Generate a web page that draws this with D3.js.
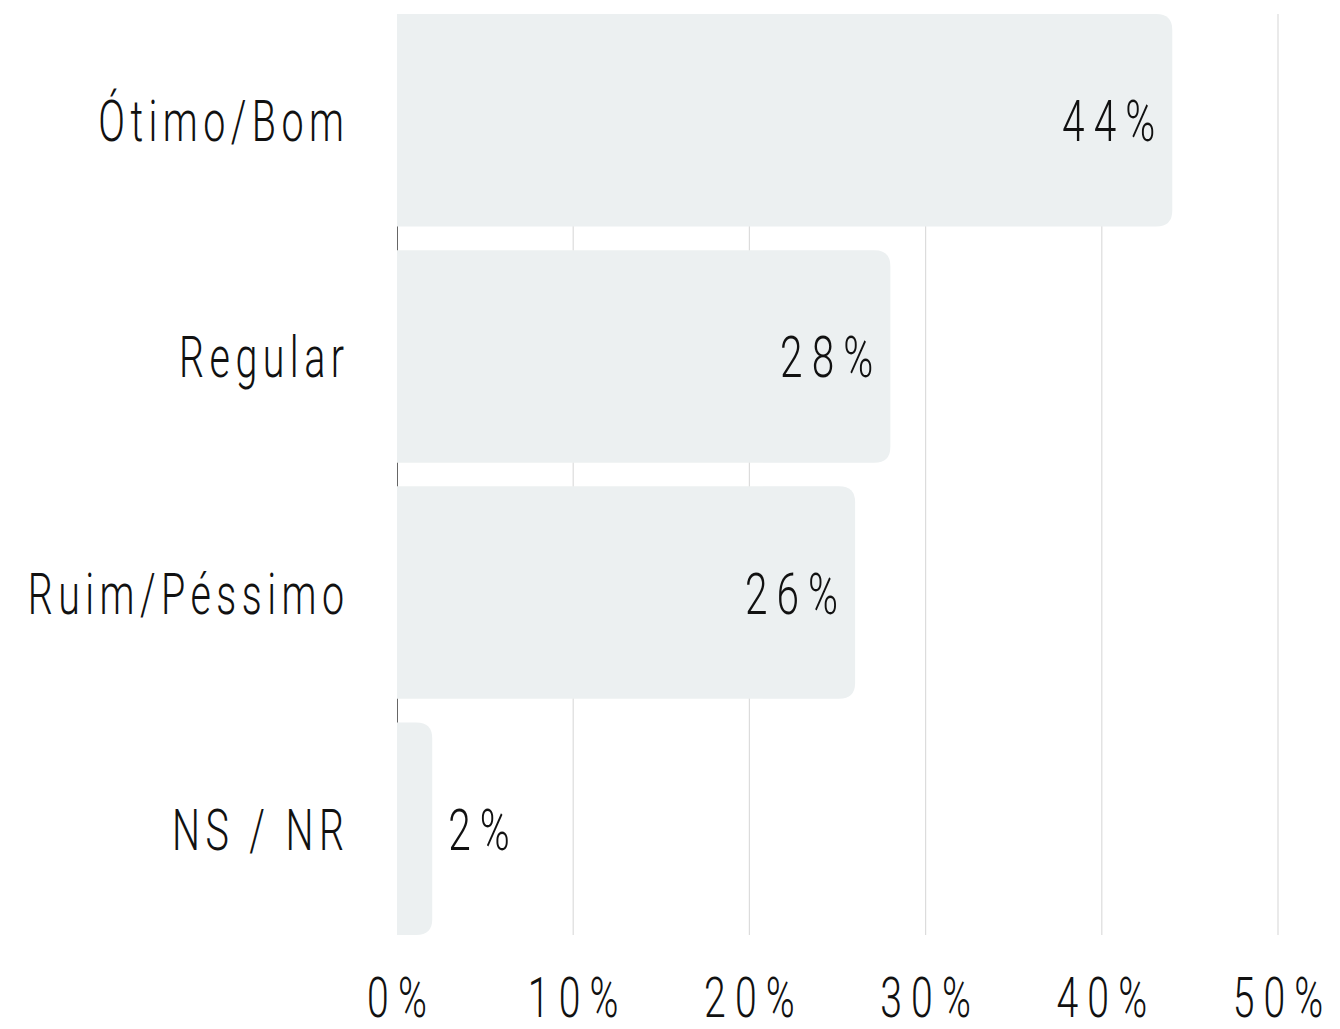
<!DOCTYPE html>
<html lang="pt">
<head>
  <meta charset="UTF-8">
  <title>Avaliação</title>
  <script src="https://d3js.org/d3.v7.min.js"></script>
  <style>
    body, html {
      margin: 0;
      padding: 0;
      overflow: hidden;
      background: #fff;
    }
    .lbl {
      font-family: Roboto, sans-serif;
      font-weight: 300;
      font-size: 58px;
      fill: #111;
    }
  </style>
</head>
<body>
  <svg width="1340" height="1029"></svg>
  <script>
    // Chart data
    const categories = ['Ótimo/Bom', 'Regular', 'Ruim/Péssimo', 'NS / NR'];
    const values = [44, 28, 26, 2];
    const tickValues = [0, 10, 20, 30, 40, 50];

    const svg = d3.select('svg');
    const margin = { top: 14, right: 62, bottom: 94, left: 397 };
    const width = 1340 - margin.left - margin.right;
    const height = 1029 - margin.top - margin.bottom;

    const g = svg.append('g').attr('transform', `translate(${margin.left},${margin.top})`);

    const x = d3.scaleLinear().domain([0, 50]).range([0, width]);
    const y = d3.scaleBand().domain(categories).range([0, height])
      .paddingInner(0.1).paddingOuter(0);

    // condensed look: horizontal squeeze + letter spacing (unscaled px)
    const wordStyle = { squeeze: 0.68, ls: 8 };
    const numStyle = { squeeze: 0.70, ls: 13 };

    // shift so the trailing letter-spacing doesn't push the text off its anchor
    function trail(st, anchor) {
      if (anchor === 'end') return st.ls * st.squeeze;
      if (anchor === 'middle') return st.ls * st.squeeze / 2;
      return 0;
    }

    function condensedText(sel, anchor, st) {
      sel.attr('class', 'lbl')
        .attr('text-anchor', anchor)
        .attr('letter-spacing', st.ls + 'px');
    }

    // Grid lines
    g.append('g')
      .selectAll('line')
      .data(tickValues.slice(1))
      .join('line')
      .attr('x1', d => x(d)).attr('x2', d => x(d))
      .attr('y1', 0).attr('y2', height)
      .attr('stroke', '#dcdcdc')
      .attr('stroke-width', 1.2);

    // Axis line
    g.append('line')
      .attr('x1', 0.5).attr('x2', 0.5)
      .attr('y1', 0).attr('y2', height)
      .attr('stroke', '#666')
      .attr('stroke-width', 1);

    // Bars with rounded right corners
    const r = 16;
    function barPath(d, i) {
      const x0 = x(0), x1 = x(d);
      const y0 = y(categories[i]), y1 = y0 + y.bandwidth();
      const rr = Math.min(r, (x1 - x0));
      return `M${x0},${y0}H${x1 - rr}Q${x1},${y0} ${x1},${y0 + rr}` +
             `V${y1 - rr}Q${x1},${y1} ${x1 - rr},${y1}H${x0}Z`;
    }

    g.append('g')
      .selectAll('path')
      .data(values)
      .join('path')
      .attr('d', barPath)
      .attr('fill', '#ecf0f1');

    // Value labels
    g.append('g')
      .selectAll('text')
      .data(values)
      .join('text')
      .each(function (d, i) {
        const inside = x(d) > 100;
        const anchor = inside ? 'end' : 'start';
        const tx = (inside ? x(d) - 17 : x(d) + 16) + trail(numStyle, anchor);
        const ty = y(categories[i]) + y.bandwidth() / 2 + 21;
        d3.select(this)
          .call(condensedText, anchor, numStyle)
          .attr('transform', `translate(${tx},${ty}) scale(${numStyle.squeeze},1)`)
          .text(d + '%');
      });

    // Category labels
    g.append('g')
      .selectAll('text')
      .data(categories)
      .join('text')
      .call(condensedText, 'end', wordStyle)
      .attr('transform', d => `translate(${-53 + trail(wordStyle, 'end')},${y(d) + y.bandwidth() / 2 + 21}) scale(${wordStyle.squeeze},1)`)
      .text(d => d);

    // X tick labels
    g.append('g')
      .selectAll('text')
      .data(tickValues)
      .join('text')
      .call(condensedText, 'middle', numStyle)
      .style('font-size', '56px')
      .attr('transform', d => `translate(${x(d) + trail(numStyle, 'middle')},${height + 82}) scale(${numStyle.squeeze},1)`)
      .text(d => d + '%');
  </script>
</body>
</html>
